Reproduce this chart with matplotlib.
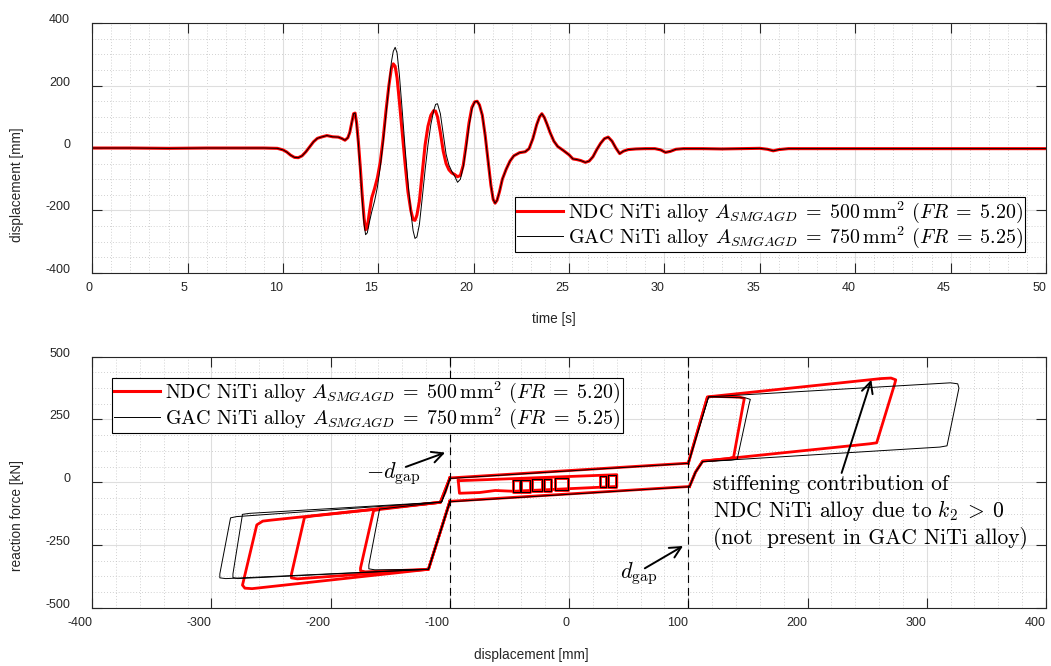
import matplotlib

matplotlib.use("Agg")
import matplotlib.pyplot as plt
from matplotlib.lines import Line2D
from matplotlib.ticker import MultipleLocator

plt.rcParams["font.family"] = ["Liberation Sans", "DejaVu Sans"]
plt.rcParams["mathtext.fontset"] = "cm"
plt.rcParams["axes.unicode_minus"] = False

RED = "#ff0000"
GRAY = "#262626"

# ---- top panel: displacement time history ----
time_s = [0, 2, 4, 6, 8, 9, 9.7, 10.0, 10.2, 10.4,
          10.6, 10.8, 11.0, 11.2, 11.4, 11.6, 11.8, 12.0, 12.3, 12.6,
          12.9, 13.1, 13.25, 13.4, 13.5, 13.6, 13.7, 13.78, 13.86, 13.95,
          14.05, 14.15, 14.25, 14.33, 14.42, 14.52, 14.65, 14.8, 14.95, 15.1,
          15.25, 15.4, 15.55, 15.68, 15.78, 15.88, 15.98, 16.1, 16.25, 16.4,
          16.55, 16.7, 16.82, 16.92, 17.02, 17.15, 17.3, 17.45, 17.6, 17.75,
          17.9, 18.0, 18.1, 18.25, 18.4, 18.55, 18.7, 18.85, 19.0, 19.15,
          19.3, 19.45, 19.6, 19.75, 19.9, 20.05, 20.18, 20.3, 20.45, 20.6,
          20.75, 20.9, 21.02, 21.12, 21.22, 21.35, 21.5, 21.7, 21.9, 22.1,
          22.4, 22.7, 22.9, 23.1, 23.3, 23.45, 23.57, 23.7, 23.85, 24.0,
          24.2, 24.4, 24.7, 25.0, 25.2, 25.4, 25.6, 25.85, 26.05, 26.25,
          26.45, 26.65, 26.85, 27.05, 27.25, 27.45, 27.65, 27.85, 28.1, 28.5,
          29.0, 29.5, 29.8, 30.05, 30.3, 30.6, 31.0, 32, 33, 34,
          35, 35.4, 35.7, 36.0, 36.5, 38, 40, 42, 44, 46,
          48, 50]

disp_ndc = [0, 0, -1, 0, 0, 0, -1, -6, -13, -23,
            -30, -31, -25, -12, 4, 20, 31, 35, 40, 36,
            35, 30, 25, 33, 50, 80, 110, 112, 80, 20,
            -60, -150, -225, -262, -255, -210, -160, -130, -95, -45,
            30, 120, 200, 255, 270, 262, 225, 150, 50, -50,
            -140, -200, -230, -232, -215, -170, -80, 10, 70, 105,
            120, 118, 100, 50, -10, -50, -70, -80, -85, -92,
            -88, -55, 10, 80, 130, 148, 150, 138, 105, 40,
            -40, -120, -165, -177, -168, -140, -100, -68, -42, -25,
            -15, -12, -2, 30, 75, 100, 110, 98, 75, 50,
            22, 5, -8, -22, -35, -37, -40, -46, -42, -28,
            -5, 15, 30, 35, 22, 0, -18, -10, -5, -3,
            -2, -2, -6, -14, -11, -4, -2, -2, -3, -2,
            -1, -4, -9, -5, -2, -2, -2, -2, -2, -2,
            -2, -2]

disp_gac = [0, 0, -1, 0, 0, 0, -1, -6, -13, -23,
            -30, -31, -25, -12, 4, 20, 31, 35, 40, 36,
            35, 30, 25, 33, 50, 80, 110, 112, 75, 15,
            -70, -165, -245, -278, -272, -240, -205, -170, -125, -60,
            20, 110, 200, 275, 310, 323, 305, 235, 120, 0,
            -110, -205, -265, -290, -285, -245, -160, -70, 10, 75,
            120, 140, 142, 110, 45, -20, -55, -75, -90, -110,
            -100, -60, 0, 70, 125, 148, 150, 138, 105, 40,
            -40, -120, -165, -177, -168, -140, -100, -68, -42, -25,
            -15, -12, -2, 30, 75, 100, 110, 98, 75, 50,
            22, 5, -8, -22, -35, -37, -40, -46, -42, -28,
            -5, 15, 30, 35, 22, 0, -18, -10, -5, -3,
            -2, -2, -6, -14, -11, -4, -2, -2, -3, -2,
            -1, -4, -9, -5, -2, -2, -2, -2, -2, -2,
            -2, -2]

# ---- bottom panel: force-displacement loops, (displacement mm, force kN) ----
ndc_band_upper = [(-100, 17), (100, 76)]
ndc_band_lower = [(101, -17), (-100, -76)]
ndc_right_small = [(100, 76), (116, 338), (120, 342), (143, 339), (147, 334),
                   (146, 310), (138, 100), (134, 94), (112, 84), (106, 40), (101, -17)]
ndc_right_large = [(100, 76), (116, 340), (262, 413), (270, 415), (274, 408),
                   (273, 390), (258, 157), (252, 153), (112, 84), (106, 40), (101, -17)]
ndc_left_large = [(-100, -76), (-118, -347), (-266, -424), (-272, -422), (-274, -410),
                  (-262, -170), (-257, -155), (-250, -151), (-108, -80), (-104, -40), (-100, 17)]
ndc_left_mid = [(-100, -76), (-118, -347), (-228, -385), (-233, -381), (-233, -368),
                (-222, -140), (-216, -135), (-108, -80), (-100, 17)]
ndc_left_small = [(-100, -76), (-118, -347), (-171, -357), (-175, -353), (-175, -342),
                  (-164, -113), (-158, -108), (-108, -80), (-100, 17)]
ndc_inner = [(-93, 6), (40, 30), (40, -17), (-47, -36), (-62, -33), (-75, -41),
             (-92, -44), (-93, 6)]

gac_band_upper = [(-100, 15), (100, 75)]
gac_band_lower = [(101, -18), (-100, -78)]
gac_right_small = [(100, 75), (117, 340), (148, 336), (152, 330), (151, 312),
                   (141, 92), (136, 88), (112, 82), (106, 40), (101, -18)]
gac_right_large = [(100, 75), (117, 340), (320, 396), (326, 392), (327, 375),
                   (317, 145), (311, 140), (112, 82), (106, 40), (101, -18)]
gac_left_large = [(-100, -78), (-118, -347), (-288, -384), (-293, -381), (-293, -365),
                  (-284, -142), (-279, -137), (-107, -79), (-103, -30), (-100, 15)]
gac_left_mid = [(-100, -78), (-118, -347), (-278, -384), (-282, -380), (-282, -365),
                (-274, -128), (-268, -124), (-107, -79), (-100, 15)]
gac_left_small = [(-100, -78), (-118, -347), (-163, -349), (-168, -345), (-168, -330),
                  (-159, -107), (-153, -104), (-107, -79), (-100, 15)]

# small friction loops inside the gap
small_loop_left = [-47, -40, -31, -21, -12, 26, 33]
small_loop_right = [-41, -33, -23, -15, -1, 31, 39]
small_loop_top = [7, 9, 11, 13, 16, 26, 28]
small_loop_bottom = [-39, -37, -35, -33, -30, -20, -18]

d_gap = 100

label_ndc = r"NDC NiTi alloy $A_{SMGAGD}\;=\;500\,\mathrm{mm}^2$ $(FR\;=\;5.20)$"
label_gac = r"GAC NiTi alloy $A_{SMGAGD}\;=\;750\,\mathrm{mm}^2$ $(FR\;=\;5.25)$"


def style_axes(ax):
    for spine in ax.spines.values():
        spine.set_color(GRAY)
        spine.set_linewidth(0.8)
    ax.tick_params(which="major", direction="in", length=7, width=0.8, color=GRAY,
                   top=True, right=True, labelsize=9, labelcolor=GRAY)
    ax.tick_params(which="minor", direction="in", length=0, top=True, right=True)
    ax.tick_params(axis="x", pad=7)
    ax.tick_params(axis="y", pad=16)
    ax.grid(which="major", color="#dedede", lw=0.8, ls="-")
    ax.grid(which="minor", color="#c2c2c2", lw=0.6, ls=(0, (1, 2.5)))
    ax.set_axisbelow(True)
    plt.setp(ax.get_xticklabels(), ha="right")
    plt.setp(ax.get_yticklabels(), va="baseline")


def add_legend(ax, **kwargs):
    handles = [Line2D([], [], color=RED, lw=2.2), Line2D([], [], color="k", lw=0.7)]
    leg = ax.legend(handles, [label_ndc, label_gac], borderaxespad=0,
                    prop={"family": "cmr10", "size": 14.4}, frameon=True,
                    fancybox=False, edgecolor="k", framealpha=1, handlelength=2.3,
                    handletextpad=0.25, borderpad=0.1, labelspacing=0.0, **kwargs)
    leg.get_frame().set_linewidth(0.8)


def plot_loop(ax, loop, color, lw):
    xs, fs = zip(*loop)
    ax.plot(xs, fs, color=color, lw=lw, solid_joinstyle="round")


fig = plt.figure(figsize=(10.51, 6.66), dpi=100)
ax_top = fig.add_axes([0.0878, 0.5905, 0.9074, 0.3745])
ax_bot = fig.add_axes([0.0878, 0.0875, 0.9074, 0.3769])

# top panel
ax_top.plot(time_s, disp_ndc, color=RED, lw=2.2, solid_joinstyle="round")
ax_top.plot(time_s, disp_gac, color="k", lw=0.7)
ax_top.set_xlim(0, 50)
ax_top.set_ylim(-400, 400)
ax_top.set_xticks(range(0, 51, 5))
ax_top.set_yticks(range(-400, 401, 200))
ax_top.xaxis.set_minor_locator(MultipleLocator(1))
ax_top.yaxis.set_minor_locator(MultipleLocator(50))
style_axes(ax_top)
ax_top.set_xlabel("time [s]", fontsize=9.8, color=GRAY)
ax_top.set_ylabel("displacement [mm]", fontsize=9.8, color=GRAY)
ax_top.xaxis.set_label_coords(0.484, -0.158)
ax_top.yaxis.set_label_coords(-0.0716, 0.352)
add_legend(ax_top, loc="lower right", bbox_to_anchor=(0.978, 0.082))

# bottom panel
ndc_loops = [ndc_band_upper, ndc_band_lower, ndc_right_small, ndc_right_large,
             ndc_left_large, ndc_left_mid, ndc_left_small, ndc_inner]
gac_loops = [gac_band_upper, gac_band_lower, gac_right_small, gac_right_large,
             gac_left_large, gac_left_mid, gac_left_small]
for color, lw, loops in [(RED, 2.0, ndc_loops), ("k", 0.7, gac_loops)]:
    for loop in loops:
        plot_loop(ax_bot, loop, color, lw)
    for xl, xr, ft, fb in zip(small_loop_left, small_loop_right,
                              small_loop_top, small_loop_bottom):
        plot_loop(ax_bot, [(xl, ft), (xr, ft), (xr, fb), (xl, fb), (xl, ft)], color, lw)

for x in (-d_gap, d_gap):
    ax_bot.axvline(x, color="k", lw=0.8, ls=(0, (7, 4.5)), zorder=3)

arrow = dict(arrowstyle="->", color="k", lw=1.4, mutation_scale=20, shrinkA=0, shrinkB=0)
ax_bot.annotate("", xy=(-104, 118), xytext=(-137, 61), arrowprops=arrow)
ax_bot.annotate("", xy=(95.6, -254), xytext=(63.5, -343), arrowprops=arrow)
ax_bot.annotate("", xy=(253.5, 408), xytext=(228.6, 37), arrowprops=arrow)
ax_bot.text(-170, 16, r"$-d_{\mathrm{gap}}$", fontsize=16, ha="left", va="baseline")
ax_bot.text(42.5, -383, r"$d_{\mathrm{gap}}$", fontsize=16, ha="left", va="baseline")
ax_bot.text(120.5, -120,
            "stiffening contribution of\nNDC NiTi alloy due to $k_2\\;>\\;0$\n"
            "(not  present in GAC NiTi alloy)",
            family="cmr10", fontsize=15.5, ha="left", va="center", linespacing=1.2)

ax_bot.set_xlim(-400, 400)
ax_bot.set_ylim(-500, 500)
ax_bot.set_xticks(range(-400, 401, 100))
ax_bot.set_yticks(range(-500, 501, 250))
ax_bot.xaxis.set_minor_locator(MultipleLocator(20))
ax_bot.yaxis.set_minor_locator(MultipleLocator(62.5))
style_axes(ax_bot)
ax_bot.set_xlabel("displacement [mm]", fontsize=9.8, color=GRAY)
ax_bot.set_ylabel("reaction force [kN]", fontsize=9.8, color=GRAY)
ax_bot.xaxis.set_label_coords(0.46, -0.16)
ax_bot.yaxis.set_label_coords(-0.0716, 0.369)
add_legend(ax_bot, loc="upper left", bbox_to_anchor=(0.0212, 0.917))

fig.savefig("out.png", dpi=100)
plt.close(fig)
